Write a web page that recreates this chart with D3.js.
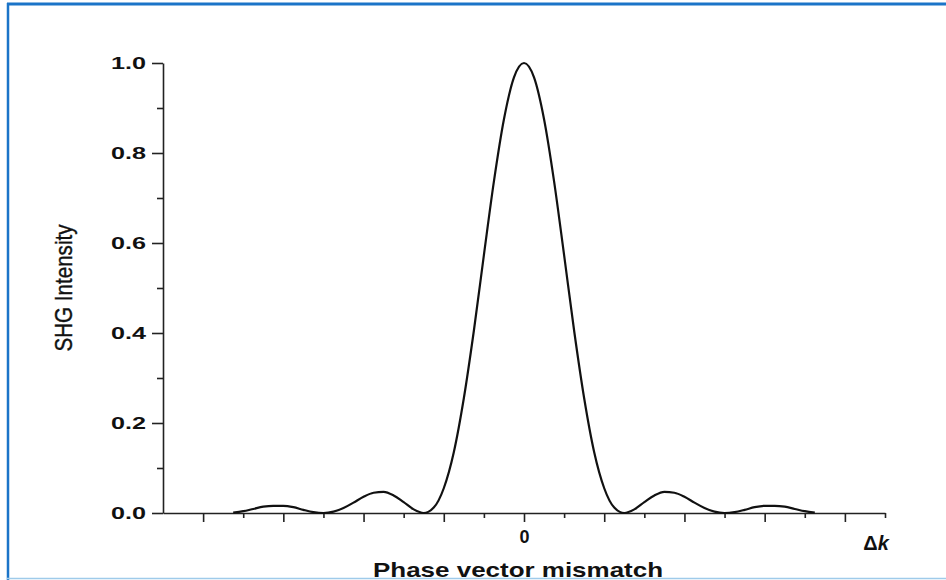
<!DOCTYPE html>
<html>
<head>
<meta charset="utf-8">
<script src="https://cdn.jsdelivr.net/npm/d3@7/dist/d3.min.js"></script>
<style>
  html, body { margin: 0; padding: 0; background: #fff; }
  svg { display: block; }
  text { font-family: "Liberation Sans", Arial, sans-serif; fill: #111; }
</style>
</head>
<body>
<svg id="chart" width="946" height="580"></svg>
<script>
// Phase mismatch (Δk, arbitrary units) and normalised SHG intensity
const deltaK = [
  -3.625, -3.5, -3.375, -3.25, -3.125, -3.0, -2.875, -2.75, -2.625, -2.5,
  -2.375, -2.25, -2.125, -2.0, -1.875, -1.75, -1.625, -1.5, -1.375, -1.25,
  -1.125, -1.0, -0.875, -0.75, -0.625, -0.5, -0.375, -0.25, -0.125, 0,
  0.125, 0.25, 0.375, 0.5, 0.625, 0.75, 0.875, 1.0, 1.125, 1.25,
  1.375, 1.5, 1.625, 1.75, 1.875, 2.0, 2.125, 2.25, 2.375, 2.5,
  2.625, 2.75, 2.875, 3.0, 3.125, 3.25, 3.375, 3.5, 3.625
];
const intensity = [
  0.001, 0.004, 0.009, 0.014, 0.016, 0.016, 0.013, 0.007, 0.002, 0.000,
  0.003, 0.011, 0.023, 0.036, 0.045, 0.047, 0.039, 0.024, 0.008, 0.000,
  0.012, 0.055, 0.135, 0.255, 0.405, 0.573, 0.737, 0.875, 0.968, 1.000,
  0.968, 0.875, 0.737, 0.573, 0.405, 0.255, 0.135, 0.055, 0.012, 0.000,
  0.008, 0.024, 0.039, 0.047, 0.045, 0.036, 0.023, 0.011, 0.003, 0.000,
  0.002, 0.007, 0.013, 0.016, 0.016, 0.014, 0.009, 0.004, 0.001
];
const yTickLabels = ["0.0", "0.2", "0.4", "0.6", "0.8", "1.0"];
const xMajorTicks = [-4, -3, -2, -1, 0, 1, 2, 3, 4];
const xLabelledTicks = [0];

const svg = d3.select("#chart");

// page frame
svg.append("line").attr("x1", 7).attr("x2", 946).attr("y1", 4).attr("y2", 4)
  .attr("stroke", "#1b74c8").attr("stroke-width", 3);
svg.append("line").attr("x1", 8).attr("x2", 8).attr("y1", 3).attr("y2", 580)
  .attr("stroke", "#1b74c8").attr("stroke-width", 2.5);
svg.append("line").attr("x1", 7).attr("x2", 946).attr("y1", 578.5).attr("y2", 578.5)
  .attr("stroke", "#9fcbea").attr("stroke-width", 1.5);

const x = d3.scaleLinear().domain([-4.5, 4.5]).range([163, 885]);
const y = d3.scaleLinear().domain([0, 1]).range([513, 63]);

// y axis: major ticks with labels, minor ticks between
const yAxis = svg.append("g").attr("transform", `translate(${x(-4.5)},0)`)
  .call(d3.axisLeft(y).tickValues(yTickLabels.map(Number))
    .tickFormat((d, i) => yTickLabels[i]).tickSizeInner(11).tickSizeOuter(0).tickPadding(6));
yAxis.append("g").call(d3.axisLeft(y).tickValues([0.1, 0.3, 0.5, 0.7, 0.9])
  .tickFormat("").tickSizeInner(6).tickSizeOuter(0))
  .select(".domain").remove();

// x axis: major and minor ticks, only zero labelled
const xAxis = svg.append("g").attr("transform", `translate(0,${y(0)})`)
  .call(d3.axisBottom(x).tickValues(xMajorTicks)
    .tickFormat(d => xLabelledTicks.includes(d) ? String(d) : "")
    .tickSizeInner(9).tickSizeOuter(0).tickPadding(8));
xAxis.append("g").call(d3.axisBottom(x).tickValues([-3.5, -2.5, -1.5, -0.5, 0.5, 1.5, 2.5, 3.5, 4.5])
  .tickFormat("").tickSizeInner(5).tickSizeOuter(0))
  .select(".domain").remove();

[yAxis, xAxis].forEach(g => g.attr("font-size", 17).attr("font-weight", "bold")
  .attr("font-family", '"Liberation Sans", Arial, sans-serif'));
svg.selectAll(".domain").attr("stroke", "#222").attr("stroke-width", 1.6);
svg.selectAll(".tick line").attr("stroke", "#222").attr("stroke-width", 1.6);
svg.selectAll(".tick text").attr("fill", "#111");
yAxis.selectAll(".tick text").filter(function () { return this.textContent !== ""; })
  .attr("textLength", 35).attr("lengthAdjust", "spacingAndGlyphs");
xAxis.selectAll(".tick text").attr("font-size", 18);

// curve
const pts = deltaK.map((d, i) => [d, intensity[i]]);
svg.append("path").datum(pts)
  .attr("fill", "none").attr("stroke", "#111").attr("stroke-width", 2.2)
  .attr("d", d3.line().x(d => x(d[0])).y(d => y(d[1])).curve(d3.curveMonotoneX));

// axis titles
svg.append("text")
  .attr("transform", `translate(72,288) rotate(-90)`)
  .attr("text-anchor", "middle")
  .attr("textLength", 127).attr("lengthAdjust", "spacingAndGlyphs")
  .attr("font-size", 24).attr("stroke", "#111").attr("stroke-width", 0.4)
  .text("SHG Intensity");

svg.append("text")
  .attr("x", 518).attr("y", 577)
  .attr("text-anchor", "middle")
  .attr("textLength", 290).attr("lengthAdjust", "spacingAndGlyphs")
  .attr("font-size", 21).attr("font-weight", "bold")
  .text("Phase vector mismatch");

const dk = svg.append("text").attr("x", 876).attr("y", 550)
  .attr("text-anchor", "middle")
  .attr("font-size", 20).attr("font-weight", "bold");
dk.append("tspan").text("Δ");
dk.append("tspan").attr("font-style", "italic").text("k");
</script>
</body>
</html>
